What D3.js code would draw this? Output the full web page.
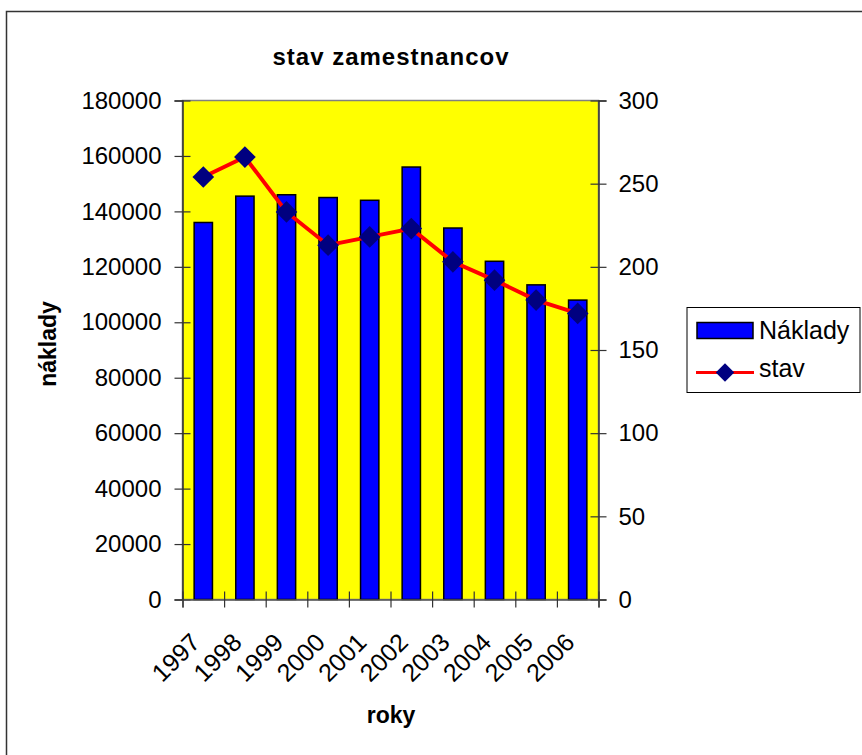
<!DOCTYPE html>
<html>
<head>
<meta charset="utf-8">
<script src="https://cdn.jsdelivr.net/npm/d3@7"></script>
<style>
  body { margin: 0; background: #fff; }
  text { font-family: Arial, "Liberation Sans", sans-serif; fill: #000; }
</style>
</head>
<body>
<svg></svg>
<script>
let width = 862, height = 755;

// data
let years = ["1997", "1998", "1999", "2000", "2001", "2002", "2003", "2004", "2005", "2006"];
let naklady = [136000, 145500, 146000, 145000, 144000, 156000, 134000, 122000, 113500, 108000];
let stav = [254, 266, 233, 213, 218, 223, 203, 192, 180, 172];
let leftTicks = [0, 20000, 40000, 60000, 80000, 100000, 120000, 140000, 160000, 180000];
let rightTicks = [0, 50, 100, 150, 200, 250, 300];

let svg = d3.select("svg")
    .attr("width", width)
    .attr("height", height);

// outer chart border
svg.append("rect")
    .attr("x", 6.5).attr("y", 11.5)
    .attr("width", 880).attr("height", 780)
    .attr("fill", "#fff")
    .attr("stroke", "#333").attr("stroke-width", 1.5);

let plot = { left: 182.5, right: 598.5, top: 100.5, bottom: 599.5 };

let x = d3.scaleBand()
    .domain(years)
    .range([plot.left, plot.right])
    .paddingInner(0.56)
    .paddingOuter(0.28);

let xEdge = d3.scaleLinear()
    .domain([0, years.length])
    .range([plot.left, plot.right]);

let yLeft = d3.scaleLinear()
    .domain([0, 180000])
    .range([plot.bottom, plot.top]);

let yRight = d3.scaleLinear()
    .domain([0, 300])
    .range([plot.bottom, plot.top]);

// plot area
svg.append("rect")
    .attr("x", plot.left).attr("y", plot.top)
    .attr("width", plot.right - plot.left)
    .attr("height", plot.bottom - plot.top)
    .attr("fill", "#ffff00")
    .attr("stroke", "#808080").attr("stroke-width", 1.5);

// bars
svg.append("g")
    .selectAll("rect")
    .data(naklady)
    .enter()
    .append("rect")
    .attr("x", (d, i) => x(years[i]))
    .attr("y", d => yLeft(d))
    .attr("width", x.bandwidth())
    .attr("height", d => yLeft(0) - yLeft(d))
    .attr("fill", "#0000ff")
    .attr("stroke", "#000").attr("stroke-width", 1.5);

// axes
let leftAxis = svg.append("g")
    .attr("transform", "translate(" + plot.left + ",0)")
    .call(d3.axisLeft(yLeft).tickValues(leftTicks).tickSize(8).tickPadding(13).tickFormat(d3.format("d")));

let rightAxis = svg.append("g")
    .attr("transform", "translate(" + plot.right + ",0)")
    .call(d3.axisRight(yRight).tickValues(rightTicks).tickSize(8).tickPadding(12));

let bottomAxis = svg.append("g")
    .attr("transform", "translate(0," + plot.bottom + ")")
    .call(d3.axisBottom(xEdge).tickValues(d3.range(years.length + 1)).tickSize(8).tickFormat(""));

leftAxis.selectAll(".tick line").attr("x1", 8);
rightAxis.selectAll(".tick line").attr("x1", -8);
bottomAxis.selectAll(".tick line").attr("y1", -8);

[leftAxis, rightAxis, bottomAxis].forEach(a => {
    a.select(".domain").attr("stroke", "#333").attr("stroke-width", 1.5);
    a.selectAll(".tick line").attr("stroke", "#333").attr("stroke-width", 1.2);
    a.selectAll("text")
        .style("font-family", "Arial, 'Liberation Sans', sans-serif")
        .style("font-size", "24px")
        .attr("fill", "#000");
});
bottomAxis.select(".domain").attr("stroke", "#555");

// rotated year labels
svg.append("g")
    .selectAll("text")
    .data(years)
    .enter()
    .append("text")
    .attr("transform", d => "translate(" + (x(d) + x.bandwidth() / 2 - 14) + "," + (plot.bottom + 32) + ") rotate(-45)")
    .attr("text-anchor", "end")
    .attr("dy", "0.7em")
    .style("font-size", "25px")
    .text(d => d);

// line series
let line = d3.line()
    .x((d, i) => x(years[i]) + x.bandwidth() / 2)
    .y(d => yRight(d));

svg.append("path")
    .datum(stav)
    .attr("d", line)
    .attr("fill", "none")
    .attr("stroke", "#ff0000")
    .attr("stroke-width", 4);

let diamond = d3.symbol().type(d3.symbolSquare).size(235);

svg.append("g")
    .selectAll("path")
    .data(stav)
    .enter()
    .append("path")
    .attr("d", diamond)
    .attr("transform", (d, i) => "translate(" + (x(years[i]) + x.bandwidth() / 2) + "," + yRight(d) + ") rotate(45)")
    .attr("fill", "#000080");

// titles
svg.append("text")
    .attr("x", 391).attr("y", 65)
    .attr("text-anchor", "middle")
    .style("font-size", "24px")
    .style("font-weight", "bold")
    .style("letter-spacing", "1px")
    .text("stav zamestnancov");

svg.append("text")
    .attr("transform", "translate(56,344) rotate(-90)")
    .attr("text-anchor", "middle")
    .style("font-size", "23px")
    .style("font-weight", "bold")
    .text("náklady");

svg.append("text")
    .attr("x", 391).attr("y", 723)
    .attr("text-anchor", "middle")
    .style("font-size", "23px")
    .style("font-weight", "bold")
    .text("roky");

// legend
let legend = svg.append("g");

legend.append("rect")
    .attr("x", 687).attr("y", 307.5)
    .attr("width", 173).attr("height", 85)
    .attr("fill", "#fff")
    .attr("stroke", "#000").attr("stroke-width", 1);

legend.append("rect")
    .attr("x", 697).attr("y", 322.5)
    .attr("width", 56).attr("height", 16)
    .attr("fill", "#0000ff")
    .attr("stroke", "#000").attr("stroke-width", 1.5);

legend.append("text")
    .attr("x", 759).attr("y", 339)
    .style("font-size", "25px")
    .text("Náklady");

legend.append("line")
    .attr("x1", 696).attr("x2", 754)
    .attr("y1", 372.5).attr("y2", 372.5)
    .attr("stroke", "#ff0000").attr("stroke-width", 3);

legend.append("path")
    .attr("d", d3.symbol().type(d3.symbolSquare).size(170))
    .attr("transform", "translate(725,372.5) rotate(45)")
    .attr("fill", "#000080");

legend.append("text")
    .attr("x", 759).attr("y", 377)
    .style("font-size", "25px")
    .text("stav");
</script>
</body>
</html>
